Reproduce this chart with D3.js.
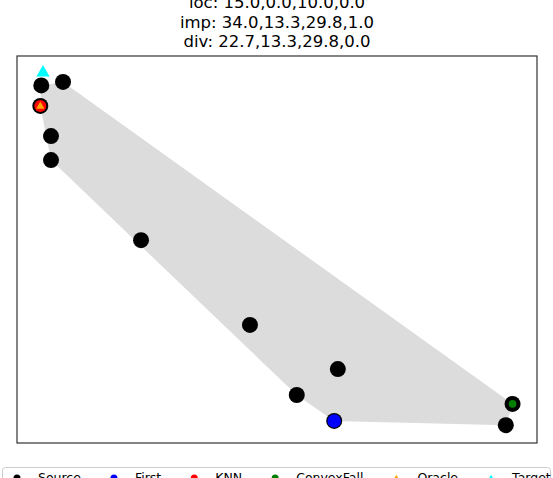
<!DOCTYPE html>
<html>
<head>
<meta charset="utf-8">
<script src="https://cdn.jsdelivr.net/npm/d3@7"></script>
<style>
  body { margin: 0; background: #fff; }
  text { font-family: "DejaVu Sans", sans-serif; }
</style>
</head>
<body>
<svg id="chart" width="553" height="478"></svg>
<script>
// title lines
const titleLines = [
  "loc: 15.0,0.0,10.0,0.0",
  "imp: 34.0,13.3,29.8,1.0",
  "div: 22.7,13.3,29.8,0.0"
];

// source points (x, y) in plot units
const sourceX = [4.67, 8.85, 4.48, 6.54, 6.54, 23.85, 44.8, 61.7, 53.8, 61.0, 95.3, 94.0];
const sourceY = [92.4, 93.3, 87.1, 79.3, 73.1, 52.4, 30.5, 19.1, 12.4, 5.7, 10.1, 4.6];

// selected points
const firstPt = [61.0, 5.7];
const knnPt = [4.48, 87.1];
const convexPt = [95.3, 10.1];
const oraclePt = [4.48, 87.1];
const targetPt = [5.0, 95.7];

const legendLabels = ["Source", "First", "KNN", "ConvexFall", "Oracle", "Target"];
const legendColors = ["black", "blue", "red", "green", "orange", "cyan"];
const legendShapes = ["circle", "circle", "circle", "circle", "triangle", "triangle"];

const svg = d3.select("#chart");
const margin = { left: 17, right: 16, top: 56, bottom: 35 };
const W = 553, H = 478;

const x = d3.scaleLinear().domain([0, 100]).range([margin.left, W - margin.right]);
const y = d3.scaleLinear().domain([0, 100]).range([H - margin.bottom, margin.top]);

// title
svg.append("g").selectAll("text")
  .data(titleLines)
  .enter().append("text")
  .attr("x", (x(0) + x(100)) / 2)
  .attr("y", (d, i) => 8 + i * 19.5)
  .attr("text-anchor", "middle")
  .attr("font-size", 16.5)
  .attr("fill", "black")
  .text(d => d);

// plot background
svg.append("rect")
  .attr("x", x(0)).attr("y", y(100))
  .attr("width", x(100) - x(0)).attr("height", y(0) - y(100))
  .attr("fill", "white");

const source = sourceX.map((v, i) => [v, sourceY[i]]);

// hull of source points
const hull = d3.polygonHull(source.map(p => [x(p[0]), y(p[1])]));
svg.append("path")
  .attr("d", "M" + hull.join("L") + "Z")
  .attr("fill", "#dcdcdc")
  .attr("stroke", "none");

// source points
svg.append("g").selectAll("circle")
  .data(source)
  .enter().append("circle")
  .attr("cx", d => x(d[0]))
  .attr("cy", d => y(d[1]))
  .attr("r", 8)
  .attr("fill", "black");

// highlighted points
svg.append("circle")
  .attr("cx", x(firstPt[0])).attr("cy", y(firstPt[1]))
  .attr("r", 6.8).attr("fill", "blue");
svg.append("circle")
  .attr("cx", x(knnPt[0])).attr("cy", y(knnPt[1]))
  .attr("r", 6).attr("fill", "red");
svg.append("circle")
  .attr("cx", x(convexPt[0])).attr("cy", y(convexPt[1]))
  .attr("r", 3.8).attr("fill", "green");

const tri = d3.symbol().type(d3.symbolTriangle);
svg.append("path")
  .attr("d", tri.size(30)())
  .attr("transform", `translate(${x(oraclePt[0])},${y(oraclePt[1]) + 0.5})`)
  .attr("fill", "orange");
svg.append("path")
  .attr("d", tri.size(75)())
  .attr("transform", `translate(${x(targetPt[0])},${y(targetPt[1])})`)
  .attr("fill", "cyan");

// axes frame
svg.append("rect")
  .attr("x", x(0)).attr("y", y(100))
  .attr("width", x(100) - x(0)).attr("height", y(0) - y(100))
  .attr("fill", "none")
  .attr("stroke", "#333")
  .attr("stroke-width", 1.2);

// legend
const legend = svg.append("g");
legend.append("rect")
  .attr("x", 2.5).attr("y", 467.5)
  .attr("width", 548).attr("height", 30)
  .attr("rx", 3)
  .attr("fill", "white")
  .attr("stroke", "#ccc");

let cursor = 17;
legendLabels.forEach((lab, i) => {
  if (legendShapes[i] === "circle") {
    legend.append("circle")
      .attr("cx", cursor).attr("cy", 478)
      .attr("r", 3.5)
      .attr("fill", legendColors[i]);
  } else {
    legend.append("path")
      .attr("d", tri.size(14)())
      .attr("transform", `translate(${cursor},478)`)
      .attr("fill", legendColors[i]);
  }
  const t = legend.append("text")
    .attr("x", cursor + 21)
    .attr("y", 482)
    .attr("font-size", 12.5)
    .attr("fill", "black")
    .text(lab);
  cursor = cursor + 21 + t.node().getComputedTextLength() + 33;
});
</script>
</body>
</html>
